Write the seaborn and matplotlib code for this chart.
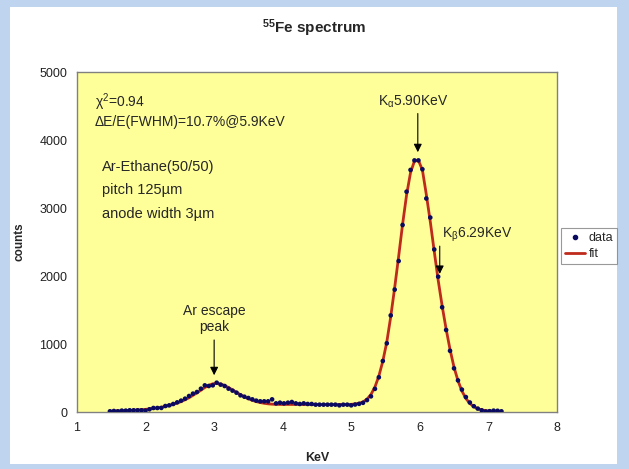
import matplotlib
matplotlib.use("Agg")
import matplotlib.pyplot as plt
import matplotlib.patches as mpatches
from matplotlib.lines import Line2D
import seaborn as sns
import pandas as pd

# ---------------- data ----------------
energy = [1.480, 1.538, 1.595, 1.653, 1.711, 1.768, 1.826, 1.884, 1.941, 1.999,
          2.057, 2.114, 2.172, 2.230, 2.288, 2.345, 2.403, 2.461, 2.518, 2.576,
          2.634, 2.691, 2.749, 2.807, 2.864, 2.922, 2.980, 3.037, 3.095, 3.153,
          3.210, 3.268, 3.326, 3.384, 3.441, 3.499, 3.557, 3.614, 3.672, 3.730,
          3.787, 3.845, 3.903, 3.960, 4.018, 4.076, 4.133, 4.191, 4.249, 4.306,
          4.364, 4.422, 4.480, 4.537, 4.595, 4.653, 4.710, 4.768, 4.826, 4.883,
          4.941, 4.999, 5.056, 5.114, 5.171, 5.229, 5.287, 5.345, 5.402, 5.460,
          5.518, 5.575, 5.633, 5.691, 5.748, 5.806, 5.864, 5.921, 5.979, 6.037,
          6.094, 6.152, 6.210, 6.267, 6.325, 6.383, 6.440, 6.498, 6.556, 6.613,
          6.671, 6.729, 6.787, 6.844, 6.902, 6.960, 7.017, 7.075, 7.133, 7.190]

counts = [10, 15, 10, 20, 20, 25, 25, 25, 25, 20,
          40, 59, 59, 60, 88, 98, 118, 142, 167, 196,
          235, 270, 294, 343, 392, 382, 392, 431, 402, 382,
          343, 314, 284, 245, 225, 206, 186, 167, 157, 157,
          157, 186, 127, 137, 127, 137, 147, 127, 118, 127,
          118, 118, 108, 108, 108, 108, 108, 108, 98, 108,
          108, 98, 110, 120, 135, 175, 230, 340, 510, 750,
          1010, 1420, 1800, 2220, 2750, 3240, 3560, 3700, 3700, 3570,
          3140, 2860, 2390, 1990, 1540, 1206, 900, 642, 465, 330,
          220, 140, 85, 50, 25, 8, 12, 20, 18, 10]

fit = [12, 14, 16, 18, 20, 23, 26, 30, 34, 39,
       45, 52, 60, 70, 82, 96, 112, 131, 153, 180,
       210, 245, 282, 320, 360, 393, 415, 422, 412, 390,
       360, 325, 290, 255, 222, 195, 172, 153, 139, 128,
       120, 115, 112, 111, 111, 111, 111, 111, 111, 110,
       110, 110, 110, 110, 110, 110, 110, 110, 110, 110,
       111, 113, 118, 128, 148, 188, 258, 368, 528, 748,
       1030, 1400, 1830, 2290, 2760, 3190, 3520, 3690, 3700, 3560,
       3200, 2800, 2360, 1940, 1560, 1220, 920, 660, 460, 310,
       200, 125, 80, 48, 30, 20, 15, 12, 11, 10]

x_ticks = [1, 2, 3, 4, 5, 6, 7, 8]
y_ticks = [0, 1000, 2000, 3000, 4000, 5000]

df = pd.DataFrame({"KeV": energy, "counts": counts, "fit": fit})

# ---------------- style ----------------
sns.set_style("white")
plt.rcParams["font.family"] = ["Liberation Sans", "DejaVu Sans"]
plt.rcParams["mathtext.default"] = "regular"

fit_color = "#BE2A1C"
dot_color = "#0A0A60"

fig = plt.figure(figsize=(6.29, 4.69), dpi=100)
fig.patch.set_facecolor("#BED4EF")
# white chart area
fig.patches.append(mpatches.Rectangle((10 / 629, 5 / 469), 607 / 629, 457 / 469,
                                      transform=fig.transFigure, facecolor="white",
                                      edgecolor="none", zorder=-5))

ax = fig.add_axes([77 / 629, 1 - 412 / 469, 480 / 629, 340 / 469])
ax.set_zorder(2)
ax.set_facecolor("#FFFF99")

sns.lineplot(data=df, x="KeV", y="fit", ax=ax, color=fit_color, linewidth=2.0,
             zorder=2, legend=False)
sns.scatterplot(data=df, x="KeV", y="counts", ax=ax, color=dot_color, s=11,
                edgecolor="none", zorder=3, legend=False)

ax.set_xlim(1, 8)
ax.set_ylim(0, 5000)
ax.set_xticks(x_ticks)
ax.set_yticks(y_ticks)
ax.tick_params(axis="both", direction="out", length=4, width=0.8, color="#808080",
               labelsize=9, labelcolor="#222222", pad=3)
for s in ax.spines.values():
    s.set_color("#808080")
    s.set_linewidth(1.0)

ax.set_xlabel("KeV", fontsize=9, fontweight="bold", labelpad=13)
ax.set_ylabel("counts", fontsize=8.5, fontweight="bold", labelpad=10)

fig.text(0.5, 1 - 28 / 469, r"$^{55}$Fe spectrum", ha="center", va="center",
         fontsize=11, fontweight="bold", zorder=3)

# ---------------- annotations ----------------
ax.text(1.26, 4550, "χ$^{2}$=0.94", ha="left", va="center", fontsize=10)
ax.text(1.26, 4260, "ΔE/E(FWHM)=10.7%@5.9KeV", ha="left", va="center", fontsize=10)
ax.text(1.36, 3610, "Ar-Ethane(50/50)", ha="left", va="center", fontsize=10.5)
ax.text(1.36, 3260, "pitch 125µm", ha="left", va="center", fontsize=10.5)
ax.text(1.36, 2910, "anode width 3µm", ha="left", va="center", fontsize=10.5)

arrow = dict(arrowstyle="-|>", color="black", lw=0.8, mutation_scale=12)
ax.annotate("", xy=(5.97, 3780), xytext=(5.97, 4430), arrowprops=arrow)
ax.text(5.91, 4560, r"K$_{\alpha}$5.90KeV", ha="center", va="center", fontsize=10)

ax.annotate("", xy=(6.29, 1990), xytext=(6.29, 2480), arrowprops=arrow)
ax.text(6.33, 2600, r"K$_{\beta}$6.29KeV", ha="left", va="center", fontsize=10)

ax.annotate("", xy=(3.0, 500), xytext=(3.0, 1100), arrowprops=arrow)
ax.text(3.0, 1370, "Ar escape\npeak", ha="center", va="center", fontsize=10,
        linespacing=1.2)

# ---------------- legend ----------------
handles = [Line2D([], [], marker="o", linestyle="none", color=dot_color, markersize=3),
           Line2D([], [], color=fit_color, linewidth=2.0)]
leg = fig.legend(handles, ["data", "fit"], loc="center left",
                 bbox_to_anchor=(561 / 629, 1 - 246 / 469), fontsize=9,
                 frameon=True, fancybox=False, handlelength=1.6, handletextpad=0.3,
                 borderpad=0.3, labelspacing=0.3, borderaxespad=0)
leg.get_frame().set_edgecolor("#808080")
leg.get_frame().set_linewidth(0.8)
leg.set_zorder(3)

fig.savefig("out.png", dpi=100, facecolor=fig.get_facecolor())
